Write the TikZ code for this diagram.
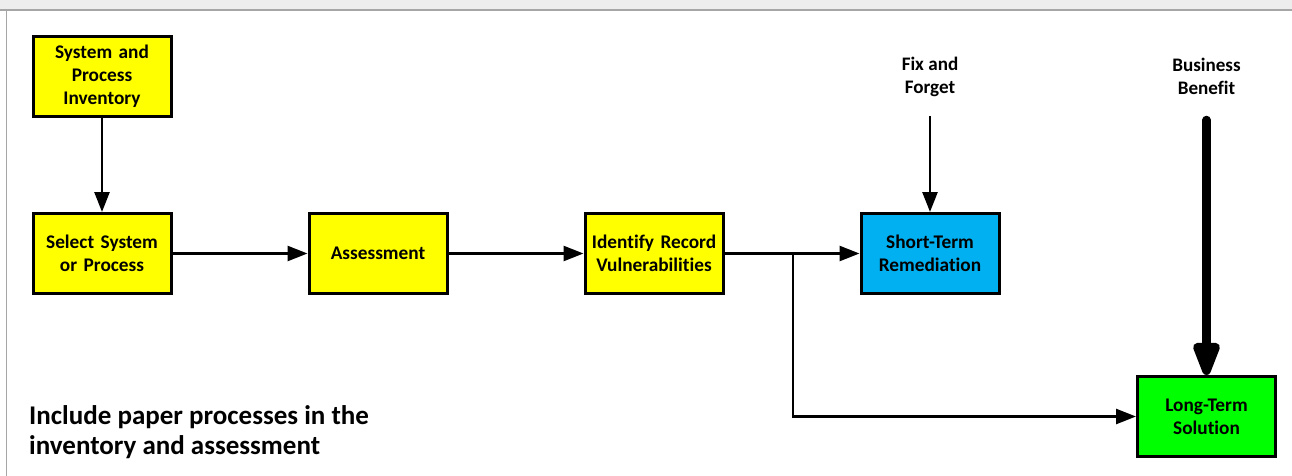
\documentclass[tikz,border=0pt]{standalone}
\usepackage{fontspec}
\setmainfont{Carlito}[Ligatures=NoCommon]
\usetikzlibrary{arrows.meta}
\definecolor{boxyellow}{HTML}{FFFF00}
\definecolor{boxblue}{HTML}{00B0F0}
\definecolor{boxgreen}{HTML}{00FF00}
\definecolor{framegray}{HTML}{A6A6A6}
\definecolor{bandgray}{HTML}{EDEDED}
\tikzset{
  procbox/.style={draw=black, line width=3pt, minimum width=136pt, minimum height=80pt,
    inner sep=2pt, align=center, font=\fontsize{19.3}{23}\selectfont\bfseries, text width=134pt},
  flow/.style={draw=black, line width=2.6pt, -{Triangle[length=20pt,width=15pt]}},
  bigflow/.style={draw=black, line width=8.5pt, line cap=round, -{Triangle[length=41pt,width=28pt,round=false]}},
  caption/.style={align=center, font=\fontsize{19.1}{23}\selectfont\bfseries},
}
\begin{document}
\begin{tikzpicture}[x=1pt, y=-1pt]
  \useasboundingbox (0,0) rectangle (1292,476);
  % window frame
  \fill[bandgray] (0,0) rectangle (1292,10);
  \draw[framegray, line width=1.5pt] (0,10) -- (1292,10);
  \draw[framegray, line width=1.5pt] (6.5,10) -- (6.5,476);

  % process boxes
  \node[procbox, fill=boxyellow] (inv)    at (102,76.5)  {System and\\Process\\Inventory};
  \node[procbox, fill=boxyellow] (select) at (102,253.5) {Select System\\or Process};
  \node[procbox, fill=boxyellow] (assess) at (378,253.5) {Assessment};
  \node[procbox, fill=boxyellow] (ident)  at (654,253.5) {Identify Record\\Vulnerabilities};
  \node[procbox, fill=boxblue]   (short)  at (930,253.5) {Short-Term\\Remediation};
  \node[procbox, fill=boxgreen]  (long)   at (1206.5,416.5) {Long-Term\\Solution};

  % drivers
  \node[caption] (fix) at (930,76.5) {Fix and\\Forget};
  \node[caption] (biz) at (1206.5,76.5) {Business\\Benefit};
  \coordinate (fixtop) at (930,116);
  \coordinate (biztop) at (1206.5,120);
  \coordinate (split) at (793,253.5);

  % connectors
  \draw[flow] (inv) -- (select);
  \draw[flow] (select) -- (assess);
  \draw[flow] (assess) -- (ident);
  \draw[flow] (ident) -- (short);
  \draw[flow] (split) |- (long);
  \draw[flow] (fixtop) -- (short);
  \draw[bigflow] (biztop) -- (long);

  % note (base anchor sits on the last line's baseline)
  \node[anchor=base west, align=left, font=\fontsize{27}{30}\selectfont\bfseries, inner sep=0pt]
    (note) at (29,454) {Include paper processes in the\\inventory and assessment};
\end{tikzpicture}
\end{document}
